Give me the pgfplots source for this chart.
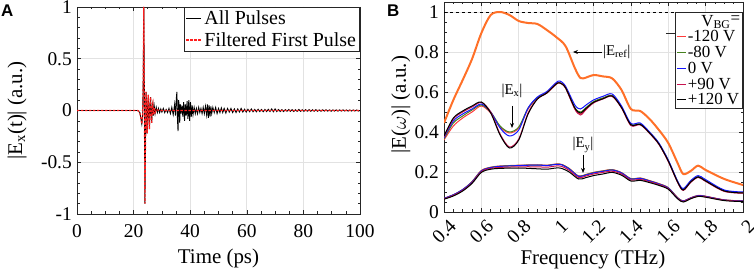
\documentclass[border=0pt]{standalone}
\usepackage{fontspec}
\setmainfont{Liberation Serif}
\newfontfamily\lsr{Liberation Serif}
\newfontfamily\panelfont{Liberation Sans}
\usepackage{pgfplots}
\usepackage{pgfplotstable}
\pgfplotsset{compat=1.18}
\usetikzlibrary{arrows.meta}

\definecolor{cref}{RGB}{255,112,40}
\definecolor{cr}{RGB}{255,60,60}
\definecolor{cg}{RGB}{70,130,30}
\definecolor{cb}{RGB}{20,20,255}
\definecolor{cp}{RGB}{200,20,80}
\definecolor{cdash}{RGB}{255,30,30}
\definecolor{gridc}{RGB}{226,226,226}

\newcommand\tickfont{\lsr\fontsize{19.5}{21}\selectfont}
\newcommand\labfont{\lsr\fontsize{21}{23}\selectfont}

\pgfplotstableread{
f r120 g80 b0 p90 k120
0.40 0.360 0.365 0.370 0.375 0.380
0.45 0.430 0.445 0.455 0.465 0.470
0.50 0.470 0.480 0.490 0.500 0.505
0.55 0.500 0.510 0.515 0.525 0.530
0.60 0.530 0.535 0.540 0.548 0.550
0.65 0.495 0.500 0.500 0.500 0.495
0.70 0.425 0.430 0.420 0.390 0.385
0.75 0.395 0.400 0.380 0.325 0.320
0.80 0.420 0.425 0.410 0.365 0.360
0.85 0.515 0.520 0.520 0.495 0.490
0.90 0.570 0.572 0.575 0.565 0.565
0.95 0.595 0.598 0.602 0.595 0.595
1.00 0.638 0.640 0.647 0.640 0.640
1.02 0.645 0.647 0.655 0.645 0.645
1.05 0.620 0.622 0.630 0.622 0.622
1.10 0.515 0.522 0.535 0.515 0.520
1.13 0.490 0.500 0.515 0.485 0.495
1.16 0.515 0.522 0.535 0.512 0.518
1.20 0.550 0.552 0.560 0.545 0.548
1.25 0.568 0.570 0.578 0.565 0.566
1.30 0.580 0.582 0.590 0.578 0.580
1.35 0.522 0.524 0.530 0.520 0.522
1.40 0.435 0.438 0.443 0.432 0.436
1.45 0.438 0.440 0.445 0.436 0.438
1.50 0.395 0.397 0.400 0.393 0.395
1.55 0.340 0.342 0.345 0.338 0.340
1.60 0.255 0.257 0.260 0.253 0.255
1.65 0.150 0.152 0.155 0.148 0.150
1.68 0.110 0.112 0.117 0.108 0.110
1.72 0.150 0.152 0.157 0.148 0.150
1.76 0.175 0.177 0.182 0.173 0.175
1.80 0.155 0.157 0.162 0.153 0.155
1.90 0.105 0.107 0.110 0.103 0.105
2.00 0.095 0.097 0.100 0.094 0.095
}\Ex

\pgfplotstableread{
f r120 g80 b0 p90 k120
0.40 0.068 0.068 0.068 0.066 0.064
0.45 0.086 0.086 0.086 0.083 0.080
0.50 0.112 0.112 0.112 0.108 0.105
0.55 0.152 0.151 0.150 0.146 0.143
0.60 0.208 0.206 0.205 0.202 0.198
0.65 0.224 0.223 0.222 0.218 0.214
0.70 0.230 0.229 0.228 0.223 0.218
0.80 0.234 0.233 0.232 0.226 0.220
0.90 0.236 0.235 0.235 0.226 0.216
0.95 0.234 0.233 0.232 0.224 0.214
1.00 0.240 0.239 0.238 0.230 0.220
1.03 0.238 0.237 0.236 0.228 0.218
1.07 0.218 0.217 0.215 0.208 0.200
1.12 0.180 0.179 0.178 0.172 0.165
1.16 0.188 0.187 0.185 0.180 0.172
1.20 0.198 0.197 0.195 0.190 0.182
1.25 0.206 0.205 0.203 0.198 0.190
1.30 0.212 0.211 0.210 0.204 0.198
1.35 0.197 0.196 0.195 0.190 0.184
1.40 0.167 0.166 0.165 0.160 0.155
1.45 0.170 0.169 0.168 0.163 0.158
1.50 0.157 0.156 0.155 0.151 0.147
1.55 0.142 0.141 0.140 0.137 0.133
1.60 0.122 0.121 0.120 0.117 0.114
1.65 0.072 0.071 0.070 0.068 0.066
1.68 0.056 0.055 0.055 0.053 0.050
1.72 0.071 0.070 0.070 0.068 0.066
1.76 0.083 0.082 0.082 0.080 0.078
1.80 0.079 0.078 0.078 0.076 0.074
1.90 0.061 0.060 0.060 0.059 0.057
2.00 0.055 0.055 0.055 0.054 0.052
}\Ey

\pgfplotstableread{
f ref
0.40 0.445
0.45 0.560
0.50 0.660
0.55 0.765
0.60 0.895
0.65 0.985
0.70 1.000
0.75 0.985
0.80 0.955
0.85 0.945
0.90 0.940
0.95 0.910
1.00 0.875
1.05 0.830
1.10 0.720
1.13 0.670
1.16 0.672
1.20 0.685
1.25 0.678
1.30 0.668
1.35 0.610
1.40 0.515
1.45 0.505
1.50 0.465
1.55 0.410
1.60 0.345
1.65 0.245
1.68 0.190
1.72 0.205
1.76 0.232
1.80 0.210
1.90 0.165
2.00 0.135
}\Eref

\pgfplotsset{
  mat/.style={
    scale only axis,
    axis line style={line width=0.8bp, black!85},
    every tick/.style={line width=0.6bp, black!85},
    major tick length=4bp, minor tick length=2.5bp,
    grid=major,
    major grid style={line width=0.7bp, gridc},
    tick label style={font=\tickfont, inner sep=0pt},
    /pgf/number format/assume math mode=true,
    label style={font=\labfont},
    clip=true,
  }
}

\begin{document}
\begin{tikzpicture}[font=\lsr]
\useasboundingbox (0,0) rectangle (754bp,275bp);

% Panel A
\begin{axis}[mat,
  at={(77bp,61bp)}, anchor=south west,
  width=283bp, height=207bp,
  xmin=0, xmax=100, ymin=-1, ymax=1,
  xtick={0,20,...,100}, ytick={-1,-0.5,0,0.5,1},
  minor x tick num=3, minor y tick num=4,
  xticklabel style={anchor=north, yshift=-10bp},
  yticklabel style={anchor=east, xshift=-5bp},
  xlabel={Time (ps)},
  ylabel={|E\textsubscript{x}(t)| (a.u.)},
  xlabel style={at={(axis description cs:0.5,-0.213)}, anchor=center},
  ylabel style={at={(axis description cs:-0.212,0.5)}, anchor=center},
  legend style={at={(rel axis cs:1,1)}, anchor=north east, draw=black!85, line width=0.8bp,
    font=\lsr\fontsize{20}{22}\selectfont, inner sep=1bp, row sep=1bp,
    nodes={inner sep=2.5bp}},
  legend cell align=left,
  legend image code/.code={\draw[#1] (0bp,0bp) -- (15bp,0bp);},
]
\addplot[black, line width=0.9bp] coordinates {
(0,0) (20,0) (21.5,0) (22.2,-0.02) (22.6,-0.08) (22.9,-0.13) (23.2,-0.05) (23.4,0.3) (23.6,1.0) (23.8,0.2) (24.0,-0.9) (24.2,-0.3) (24.4,0.18) (24.6,0.05) (24.8,-0.22) (25.0,0.0) (25.2,0.15) (25.4,-0.05) (25.6,-0.18) (25.8,0.05) (26.0,0.13) (26.2,-0.02) (26.4,-0.12) (26.6,0.04) (26.8,0.07) (27.0,-0.05) (27.3,0.04) (27.6,-0.03) (28.0,0.03) (28.4,-0.02) (28.8,0.02) (29.2,-0.02) (29.6,0.015) (30.0,-0.015) (30.5,0.02) (31.0,-0.02) (31.5,0.01) (32.0,-0.02) (32.5,0.02) (33.0,-0.03) (33.5,0.03) (34.0,-0.04) (34.5,0.06) (34.8,-0.05) (35.1,0.12) (35.3,0.18) (35.5,-0.08) (35.7,-0.2) (35.9,0.1) (36.1,0.05) (36.3,-0.12) (36.5,0.06) (36.8,-0.03) (37.1,0.05) (37.4,-0.06) (37.7,0.08) (38.0,-0.1) (38.3,0.06) (38.6,-0.05) (38.9,0.09) (39.2,-0.08) (39.5,0.1) (39.8,-0.1) (40.1,0.08) (40.4,-0.06) (40.7,0.05) (41.0,-0.04) (41.4,0.03) (41.8,-0.03) (42.2,0.02) (42.6,-0.03) (43.0,0.03) (43.4,-0.02) (43.8,0.02) (44.2,-0.03) (44.6,0.03) (45.0,-0.03) (45.4,0.04) (45.8,-0.04) (46.1,0.06) (46.4,-0.07) (46.7,0.05) (47.0,-0.06) (47.3,0.04) (47.6,-0.03) (48.0,0.03) (48.5,-0.02) (49,0.03) (49.5,-0.03) (50,0.02) (50.5,-0.02) (51,0.025) (51.5,-0.02) (52,0.02) (52.6,-0.025) (53.2,0.02) (53.8,-0.015) (54.4,0.02) (55,-0.02) (55.6,0.015) (56.2,-0.02) (56.8,0.015) (57.4,-0.015) (58,0.02) (58.6,-0.015) (59.2,0.012) (59.8,-0.015) (60.4,0.012) (61,-0.012) (61.6,0.015) (62.2,-0.012) (62.8,0.01) (63.4,-0.012) (64,0.012) (64.6,-0.01) (65.2,0.01) (65.8,-0.012) (66.4,0.01) (67,-0.01) (67.6,0.012) (68.2,-0.01) (68.8,0.015) (69.4,-0.012) (70,0.015) (70.6,-0.01) (71.2,0.01) (71.8,-0.01) (72.4,0.008) (73,-0.01) (73.6,0.008) (74.2,-0.008) (74.8,0.01) (75.4,-0.008) (76,0.008) (76.6,-0.01) (77.2,0.008) (77.8,-0.008) (78.4,0.01) (79,-0.008) (79.6,0.007) (80.2,-0.008) (80.8,0.008) (81.4,-0.007) (82,0.008) (82.6,-0.008) (83.2,0.007) (83.8,-0.007) (84.4,0.008) (85,-0.007) (85.6,0.006) (86.2,-0.007) (86.8,0.007) (87.4,-0.006) (88,0.007) (88.6,-0.006) (89.2,0.006) (89.8,-0.007) (90.4,0.006) (91,-0.006) (91.6,0.006) (92.2,-0.006) (92.8,0.006) (93.4,-0.005) (94,0.006) (94.6,-0.005) (95.2,0.005) (95.8,-0.006) (96.4,0.005) (97,-0.005) (97.6,0.005) (98.2,-0.005) (98.8,0.005) (99.4,-0.005) (100,0)
};
\addlegendentry{All Pulses}
\addplot[cdash, line width=1.2bp, dash pattern=on 2.4bp off 1.6bp, forget plot] coordinates {
(0,0) (21.5,0) (22.2,-0.02) (22.6,-0.08) (22.9,-0.13) (23.2,-0.05) (23.4,0.3) (23.6,1.0) (23.8,0.2) (24.0,-0.9) (24.2,-0.3) (24.4,0.18) (24.6,0.05) (24.8,-0.22) (25.0,0.0) (25.2,0.15) (25.4,-0.05) (25.6,-0.18) (25.8,0.05) (26.0,0.13) (26.2,-0.02) (26.4,-0.12) (26.6,0.04) (26.8,0.07) (27.0,-0.04) (27.3,0.03) (27.6,-0.02) (28,0.01) (29,0) (100,0)
};
\addlegendimage{color=cdash, line width=1.4bp, dash pattern=on 2.4bp off 1.6bp}
\addlegendentry{Filtered First Pulse}
\end{axis}

% Panel B
\begin{axis}[mat,
  at={(444bp,63bp)}, anchor=south west,
  width=299bp, height=210bp,
  xmin=0.4, xmax=2, ymin=0, ymax=1.05,
  xtick={0.4,0.6,0.8,1,1.2,1.4,1.6,1.8,2},
  xticklabels={0.4,0.6,0.8,1,1.2,1.4,1.6,1.8,2},
  ytick={0,0.2,0.4,0.6,0.8,1},
  yticklabels={0,0.2,0.4,0.6,0.8,1},
  minor x tick num=3, minor y tick num=3,
  xticklabel style={xshift=4bp, yshift=-6bp, rotate=45, anchor=north east},
  yticklabel style={anchor=east, xshift=-5bp},
  xlabel={Frequency (THz)},
  ylabel={|E($\omega$)| (a.u.)},
  xlabel style={at={(axis description cs:0.498,-0.224)}, anchor=center},
  ylabel style={at={(axis description cs:-0.144,0.51)}, anchor=center},
  legend style={at={(rel axis cs:1,0.952)}, anchor=north east, draw=black!85, line width=0.8bp,
    font=\lsr\fontsize{17}{19}\selectfont, inner sep=1bp, row sep=0bp,
    nodes={inner sep=1.5bp}},
  legend cell align=left,
  legend image code/.code={\draw[#1] (0bp,0bp) -- (9bp,0bp);},
]
\addlegendimage{empty legend}
\addlegendentry{\hspace{0.8em}V\textsubscript{BG}\raisebox{3bp}{=}}
\addplot[black, dashed, line width=0.6bp, forget plot] coordinates {(0.4,1) (2,1)};
\addplot[cref, line width=2bp, smooth, forget plot] table[x=f, y=ref] {\Eref};
\addplot[cr, line width=1bp, smooth] table[x=f, y=r120] {\Ex};
\addlegendentry{-120 V}
\addplot[cg, line width=1bp, smooth] table[x=f, y=g80] {\Ex};
\addlegendentry{-80 V}
\addplot[cb, line width=1bp, smooth] table[x=f, y=b0] {\Ex};
\addlegendentry{0 V}
\addplot[cp, line width=1bp, smooth] table[x=f, y=p90] {\Ex};
\addlegendentry{+90 V}
\addplot[black, line width=1bp, smooth] table[x=f, y=k120] {\Ex};
\addlegendentry{+120 V}
\addplot[cr, line width=1bp, smooth, forget plot] table[x=f, y=r120] {\Ey};
\addplot[cg, line width=1bp, smooth, forget plot] table[x=f, y=g80] {\Ey};
\addplot[cb, line width=1bp, smooth, forget plot] table[x=f, y=b0] {\Ey};
\addplot[cp, line width=1bp, smooth, forget plot] table[x=f, y=p90] {\Ey};
\addplot[black, line width=1bp, smooth, forget plot] table[x=f, y=k120] {\Ey};
% annotations
\draw[-{Stealth[length=5bp,width=4bp]}, line width=0.8bp] (axis cs:1.245,0.8) -- (axis cs:1.09,0.8);
\node[anchor=west, inner sep=0pt, font=\lsr\fontsize{15}{16}\selectfont] at (axis cs:1.25,0.8) {|E\textsubscript{ref}|};
\node[inner sep=0pt, font=\lsr\fontsize{15}{16}\selectfont] at (axis cs:0.764,0.605) {|E\textsubscript{x}|};
\draw[-{Stealth[length=5bp,width=4bp]}, line width=0.8bp] (axis cs:0.764,0.53) -- (axis cs:0.764,0.42);
\node[inner sep=0pt, font=\lsr\fontsize{15}{16}\selectfont] at (axis cs:1.144,0.335) {|E\textsubscript{y}|};
\draw[-{Stealth[length=5bp,width=4bp]}, line width=0.8bp] (axis cs:1.144,0.285) -- (axis cs:1.144,0.195);
\draw[black!85, line width=0.8bp] (rel axis cs:0.742,0.852) -- (rel axis cs:1,0.852);
\end{axis}

\node[anchor=north west, inner sep=0pt, font=\panelfont\bfseries\fontsize{17}{18}\selectfont] at (1bp,270bp) {A};
\node[anchor=north west, inner sep=0pt, font=\panelfont\bfseries\fontsize{17}{18}\selectfont] at (387bp,270bp) {B};
\end{tikzpicture}
\end{document}
